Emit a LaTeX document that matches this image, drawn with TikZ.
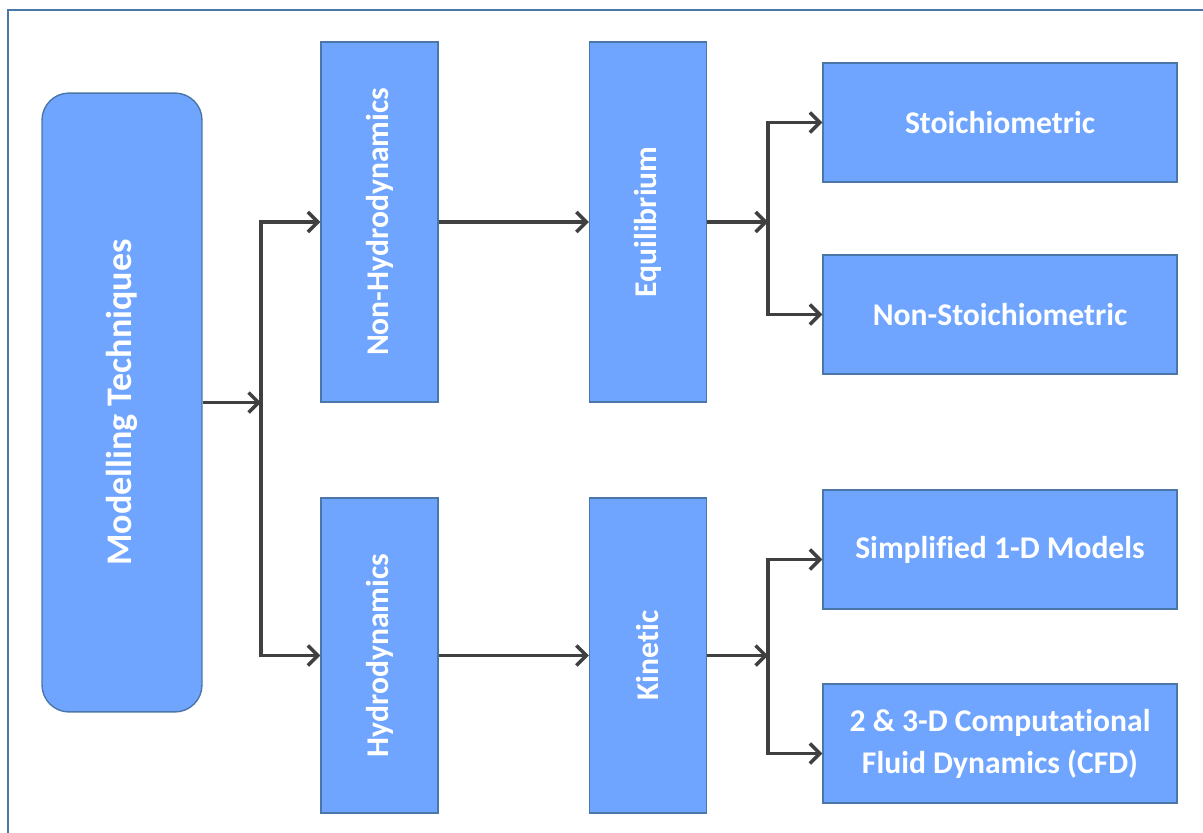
\documentclass[tikz,border=0pt]{standalone}
\usepackage{fontspec}
\setmainfont{Carlito}[Ligatures=NoCommon]
\usetikzlibrary{arrows.meta}
\definecolor{boxfill}{HTML}{6FA5FF}
\definecolor{boxline}{HTML}{4A76A8}
\definecolor{arrowgray}{HTML}{404040}

\begin{document}
\begin{tikzpicture}[x=0.02cm,y=-0.02cm,
    box/.style={draw=boxline,line width=0.8pt,fill=boxfill,text=white,font=\bfseries\fontsize{18}{24}\selectfont,inner sep=0pt,align=center},
    vbox/.style={box,minimum width=2.34cm,minimum height=7.2cm},
    hbox/.style={box,minimum width=7.08cm,minimum height=2.38cm},
    conn/.style={draw=arrowgray,line width=2pt,-{Straight Barb[length=2mm,width=4mm,line width=2pt]}}]
  \useasboundingbox (0,0) rectangle (1203,832);
  % frame
  \draw[boxline,line width=0.8pt] (8,10) rectangle (1215,845);

  \node[box,rounded corners=0.54cm,minimum width=3.2cm,minimum height=12.38cm,font=\bfseries\fontsize{20.5}{24}\selectfont](model) at (122,402.5){\rotatebox{90}{Modelling Techniques}};

  \node[vbox](nonhydro) at (379.5,222){\rotatebox{90}{Non-Hydrodynamics}};
  \node[vbox,minimum height=6.3cm](hydro) at (379.5,655.5){\rotatebox{90}{Hydrodynamics}};
  \node[vbox](equil) at (648,222){\rotatebox{90}{Equilibrium}};
  \node[vbox,minimum height=6.3cm](kinetic) at (648,655.5){\rotatebox{90}{Kinetic}};

  \node[hbox](stoich) at (1000,122.5){Stoichiometric};
  \node[hbox](nonstoich) at (1000,314.5){Non-Stoichiometric};
  \node[hbox](simple) at (1000,549.5){Simplified 1-D Models};
  \node[hbox](cfd) at (1000,743.5){2 \& 3-D Computational\\Fluid Dynamics (CFD)};

  % junctions
  \coordinate (j1) at (261,402.5);
  \coordinate (j2) at (768,222);
  \coordinate (j3) at (768,655.5);

  \draw[conn] (model.east) -- (j1);
  \draw[conn] (j1) |- (nonhydro.west);
  \draw[conn] (j1) |- (hydro.west);
  \draw[conn] (nonhydro.east) -- (equil.west);
  \draw[conn] (hydro.east) -- (kinetic.west);

  \draw[conn] (equil.east) -- (j2);
  \draw[conn] (j2) |- (stoich.west);
  \draw[conn] (j2) |- (nonstoich.west);
  \draw[conn] (kinetic.east) -- (j3);
  \draw[conn] (j3) |- ([yshift=-0.2cm]simple.west);
  \draw[conn] (j3) |- ([yshift=-0.2cm]cfd.west);
\end{tikzpicture}
\end{document}
